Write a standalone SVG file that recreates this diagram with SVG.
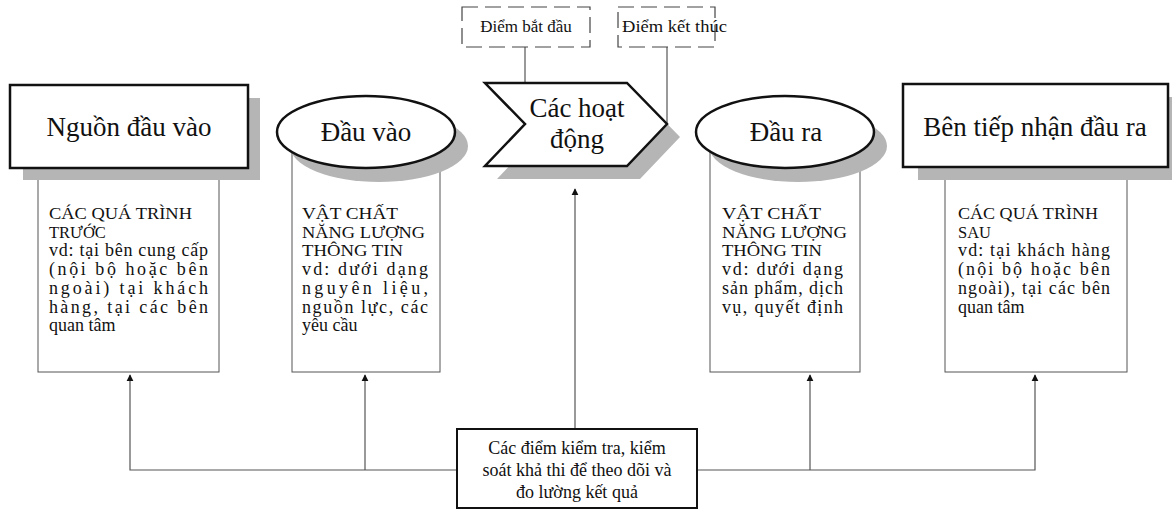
<svg xmlns="http://www.w3.org/2000/svg" width="1172" height="520" viewBox="0 0 1172 520">
<defs>
<style>
.shadow{fill:#b5b5b5;stroke:none}
.main{fill:#fff;stroke:#111;stroke-width:2.5}
.detail{fill:#fff;stroke:#555;stroke-width:1}
.title{font-family:"Liberation Serif",serif;font-size:27px;fill:#111;text-anchor:middle}
.body{font-family:"Liberation Serif",serif;font-size:18px;fill:#111}
.caps{font-family:"Liberation Serif",serif;font-size:16.5px;fill:#111}
.dash{fill:#fff;stroke:#444;stroke-width:1.2;stroke-dasharray:16 7}
.small{font-family:"Liberation Serif",serif;font-size:17px;fill:#111}
.conn{fill:none;stroke:#555;stroke-width:1.2}
</style>
<marker id="arr" viewBox="0 0 10 10" refX="9" refY="5" markerWidth="7" markerHeight="9" markerUnits="userSpaceOnUse" orient="auto">
<path d="M0,0 L10,5 L0,10 Z" fill="#111"/>
</marker>
</defs>
<rect width="1172" height="520" fill="#fff"/>

<g id="connectors">
<polyline class="conn" points="457,470 130,470 130,375" marker-end="url(#arr)"/>
<line class="conn" x1="365" y1="470" x2="365" y2="375" marker-end="url(#arr)"/>
<polyline class="conn" points="697,470 1035,470 1035,375" marker-end="url(#arr)"/>
<line class="conn" x1="810" y1="470" x2="810" y2="375" marker-end="url(#arr)"/>
<line class="conn" x1="575" y1="428" x2="575" y2="189" marker-end="url(#arr)"/>
<line class="conn" x1="525" y1="47" x2="525" y2="124"/>
<line class="conn" x1="667" y1="47" x2="667" y2="124"/>
</g>

<g id="node-nguon-dau-vao">
<rect class="detail" x="38" y="175" width="181" height="197"/>
<rect class="shadow" x="23" y="98" width="237" height="82"/>
<rect class="main" x="10" y="85" width="238" height="83"/>
<text class="title" x="129" y="136">Nguồn đầu vào</text>
<text class="caps" x="49" y="219" textLength="143" lengthAdjust="spacingAndGlyphs">CÁC QUÁ TRÌNH</text>
<text class="caps" x="49" y="237.7">TRƯỚC</text>
<text class="body" x="49" y="256.4" textLength="159" lengthAdjust="spacing">vd: tại bên cung cấp</text>
<text class="body" x="49" y="275.1" textLength="159" lengthAdjust="spacing">(nội bộ hoặc bên</text>
<text class="body" x="49" y="293.8" textLength="159" lengthAdjust="spacing">ngoài) tại khách</text>
<text class="body" x="49" y="312.5" textLength="159" lengthAdjust="spacing">hàng, tại các bên</text>
<text class="body" x="49" y="331.2">quan tâm</text>
</g>

<g id="node-dau-vao">
<rect class="detail" x="292" y="150" width="148" height="222"/>
<ellipse class="shadow" cx="379" cy="146" rx="89" ry="36"/>
<ellipse class="main" cx="366" cy="132" rx="89" ry="36"/>
<text class="title" x="366" y="141">Đầu vào</text>
<text class="caps" x="302" y="219" textLength="96" lengthAdjust="spacingAndGlyphs">VẬT CHẤT</text>
<text class="caps" x="302" y="237.7" textLength="123" lengthAdjust="spacingAndGlyphs">NĂNG LƯỢNG</text>
<text class="caps" x="302" y="256.4" textLength="101" lengthAdjust="spacingAndGlyphs">THÔNG TIN</text>
<text class="body" x="302" y="275.1" textLength="126" lengthAdjust="spacing">vd: dưới dạng</text>
<text class="body" x="302" y="293.8" textLength="126" lengthAdjust="spacing">nguyên liệu,</text>
<text class="body" x="302" y="312.5" textLength="126" lengthAdjust="spacing">nguồn lực, các</text>
<text class="body" x="302" y="331.2">yêu cầu</text>
</g>

<g id="node-cac-hoat-dong">
<polygon class="shadow" points="497,96 640,96 680,137 640,179 497,179 537,137"/>
<polygon class="main" points="485,83 627,83 667,124 627,166 485,166 525,124"/>
<text class="title" x="577" y="117" font-size="29">Các hoạt</text>
<text class="title" x="577" y="148" font-size="29">động</text>
</g>

<g id="node-diem-bat-dau">
<rect class="dash" x="462" y="7" width="128" height="40"/>
<text class="small" x="526" y="32" text-anchor="middle">Điểm bắt đầu</text>
</g>

<g id="node-diem-ket-thuc">
<rect class="dash" x="618" y="7" width="97" height="40"/>
<text class="small" x="622" y="32" textLength="105" lengthAdjust="spacingAndGlyphs">Điểm kết thúc</text>
</g>

<g id="node-dau-ra">
<rect class="detail" x="710" y="150" width="150" height="222"/>
<ellipse class="shadow" cx="798" cy="146" rx="89" ry="36"/>
<ellipse class="main" cx="785" cy="132" rx="89" ry="36"/>
<text class="title" x="786" y="141">Đầu ra</text>
<text class="caps" x="722" y="219" textLength="99" lengthAdjust="spacingAndGlyphs">VẬT CHẤT</text>
<text class="caps" x="722" y="237.7" textLength="125" lengthAdjust="spacingAndGlyphs">NĂNG LƯỢNG</text>
<text class="caps" x="722" y="256.4" textLength="100" lengthAdjust="spacingAndGlyphs">THÔNG TIN</text>
<text class="body" x="722" y="275.1" textLength="121" lengthAdjust="spacing">vd: dưới dạng</text>
<text class="body" x="722" y="293.8" textLength="121" lengthAdjust="spacing">sản phẩm, dịch</text>
<text class="body" x="722" y="312.5" textLength="121" lengthAdjust="spacing">vụ, quyết định</text>
</g>

<g id="node-ben-tiep-nhan">
<rect class="detail" x="945" y="175" width="182" height="197"/>
<rect class="shadow" x="918" y="97" width="262" height="83"/>
<rect class="main" x="903" y="84" width="265" height="83"/>
<text class="title" x="1035" y="136">Bên tiếp nhận đầu ra</text>
<text class="caps" x="958" y="219" textLength="140" lengthAdjust="spacingAndGlyphs">CÁC QUÁ TRÌNH</text>
<text class="caps" x="958" y="237.7">SAU</text>
<text class="body" x="958" y="256.4" textLength="152" lengthAdjust="spacing">vd: tại khách hàng</text>
<text class="body" x="958" y="275.1" textLength="152" lengthAdjust="spacing">(nội bộ hoặc bên</text>
<text class="body" x="958" y="293.8" textLength="152" lengthAdjust="spacing">ngoài), tại các bên</text>
<text class="body" x="958" y="312.5">quan tâm</text>
</g>

<g id="node-diem-kiem-tra">
<rect x="457" y="429" width="240" height="79" fill="#fff" stroke="#111" stroke-width="2"/>
<text class="body" x="577" y="454" text-anchor="middle" font-size="20">Các điểm kiểm tra, kiểm</text>
<text class="body" x="577" y="476" text-anchor="middle" font-size="20">soát khả thi để theo dõi và</text>
<text class="body" x="577" y="498" text-anchor="middle" font-size="20">đo lường kết quả</text>
</g>
</svg>
